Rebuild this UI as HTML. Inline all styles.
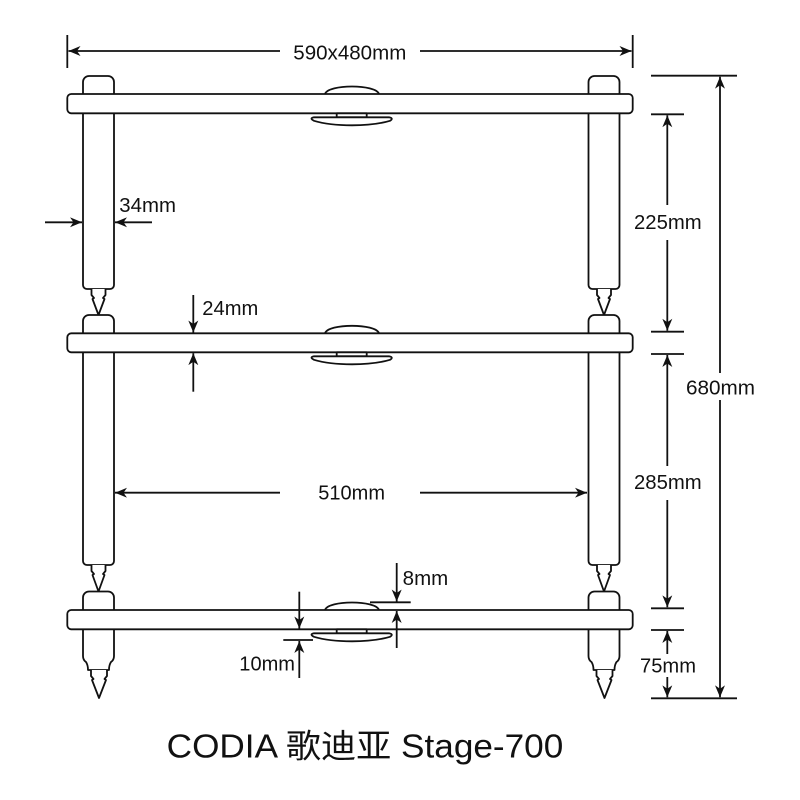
<!DOCTYPE html>
<html>
<head>
<meta charset="utf-8">
<style>
  html,body{margin:0;padding:0;background:#fff;}
  svg{display:block;}
  text{font-family:"Liberation Sans","Noto Sans CJK SC",sans-serif;fill:#111;}
</style>
</head>
<body>
<svg width="800" height="800" viewBox="0 0 800 800" xmlns="http://www.w3.org/2000/svg">
  <defs>
    <marker id="ah" viewBox="0 0 12 10" refX="12" refY="5" markerWidth="12" markerHeight="10" markerUnits="userSpaceOnUse" orient="auto">
      <path d="M0,0 L12,5 L0,10 L3.5,5 Z" fill="#111"/>
    </marker>
    <g id="col" fill="#fff" stroke="#111" stroke-width="1.8" stroke-linejoin="round">
      <rect x="83" y="76" width="31" height="30" rx="6"/>
      <rect x="83" y="100" width="31" height="189" rx="4"/>
      <path d="M91.5,289 L91.5,295 L94,298 L92.5,299 L98.5,315 L104.5,299 L103,298 L105.5,295 L105.5,289"/>
      <rect x="83" y="315" width="31" height="28" rx="6"/>
      <rect x="83" y="345" width="31" height="220" rx="4"/>
      <path d="M91.5,565 L91.5,571 L94,574 L92.5,575 L98.5,591.5 L104.5,575 L103,574 L105.5,571 L105.5,565"/>
      <rect x="83" y="591.5" width="31" height="28" rx="6"/>
      <path d="M83,620 L83,656 Q83,660 86,662 Q88,665 88,670 L109,670 Q109,665 111,662 Q114,660 114,656 L114,620"/>
      <path d="M91,670 L91,676 L93.5,679 L92,680 L99,698 L106,680 L104.5,679 L107,676 L107,670"/>
    </g>
    <g id="puck" fill="#fff" stroke="#111" stroke-width="1.8" stroke-linejoin="round">
      <path d="M325,0 C328,-10 376,-10 379,0"/>
    </g>
    <g id="puckb" fill="#fff" stroke="#111" stroke-width="1.8" stroke-linejoin="round">
      <rect x="336.7" y="0" width="30" height="4"/>
      <path d="M314,4 L389,4 Q394,5 390,7.5 C370,13.5 334,13.5 314,7.5 Q309,5 314,4 Z"/>
    </g>
  </defs>

  <use href="#col"/>
  <use href="#col" transform="translate(505.5,0)"/>

  <use href="#puck" transform="translate(0,94)"/>
  <use href="#puck" transform="translate(0,333.3)"/>
  <use href="#puck" transform="translate(0,610)"/>

  <g fill="#fff" stroke="#111" stroke-width="1.8">
    <rect x="67.3" y="94" width="565.4" height="19.3" rx="4"/>
    <rect x="67.3" y="333.3" width="565.4" height="19" rx="4"/>
    <rect x="67.3" y="610" width="565.4" height="19.3" rx="4"/>
  </g>

  <use href="#puckb" transform="translate(0,113.3)"/>
  <use href="#puckb" transform="translate(0,352.3)"/>
  <use href="#puckb" transform="translate(0,629.3)"/>

  <g stroke="#111" stroke-width="1.8" fill="none">
    <line x1="67.3" y1="35" x2="67.3" y2="68"/>
    <line x1="632.7" y1="35" x2="632.7" y2="68"/>
    <line x1="280" y1="51" x2="68.5" y2="51" marker-end="url(#ah)"/>
    <line x1="420" y1="51" x2="631.5" y2="51" marker-end="url(#ah)"/>

    <line x1="651" y1="75.7" x2="737" y2="75.7"/>
    <line x1="651" y1="114.3" x2="684" y2="114.3"/>
    <line x1="651" y1="331.7" x2="684" y2="331.7"/>
    <line x1="651" y1="354" x2="684" y2="354"/>
    <line x1="651" y1="608.3" x2="684" y2="608.3"/>
    <line x1="651" y1="630" x2="684" y2="630"/>
    <line x1="651" y1="698.3" x2="737" y2="698.3"/>

    <line x1="720" y1="373" x2="720" y2="76.7" marker-end="url(#ah)"/>
    <line x1="720" y1="400" x2="720" y2="697.3" marker-end="url(#ah)"/>
    <line x1="667.3" y1="205" x2="667.3" y2="115.3" marker-end="url(#ah)"/>
    <line x1="667.3" y1="240" x2="667.3" y2="330.7" marker-end="url(#ah)"/>
    <line x1="667.3" y1="466" x2="667.3" y2="355" marker-end="url(#ah)"/>
    <line x1="667.3" y1="500" x2="667.3" y2="607.3" marker-end="url(#ah)"/>
    <line x1="667.3" y1="654" x2="667.3" y2="631" marker-end="url(#ah)"/>
    <line x1="667.3" y1="677" x2="667.3" y2="697.3" marker-end="url(#ah)"/>

    <line x1="45" y1="222.3" x2="82" y2="222.3" marker-end="url(#ah)"/>
    <line x1="152" y1="222.3" x2="115" y2="222.3" marker-end="url(#ah)"/>
    <line x1="193.3" y1="295" x2="193.3" y2="332.5" marker-end="url(#ah)"/>
    <line x1="193.3" y1="391.7" x2="193.3" y2="353.2" marker-end="url(#ah)"/>
    <line x1="280" y1="492.7" x2="115" y2="492.7" marker-end="url(#ah)"/>
    <line x1="420" y1="492.7" x2="587" y2="492.7" marker-end="url(#ah)"/>
    <line x1="370" y1="602.3" x2="410.7" y2="602.3"/>
    <line x1="396.7" y1="563" x2="396.7" y2="601.5" marker-end="url(#ah)"/>
    <line x1="396.7" y1="648" x2="396.7" y2="611" marker-end="url(#ah)"/>
    <line x1="283.3" y1="640" x2="313" y2="640"/>
    <line x1="299.3" y1="591.7" x2="299.3" y2="628.5" marker-end="url(#ah)"/>
    <line x1="299.3" y1="678" x2="299.3" y2="641" marker-end="url(#ah)"/>
  </g>

  <g font-size="20">
    <text x="293.3" y="59.3" textLength="113" lengthAdjust="spacingAndGlyphs">590x480mm</text>
    <text x="119.3" y="212" textLength="56.7" lengthAdjust="spacingAndGlyphs">34mm</text>
    <text x="202.3" y="315" textLength="56" lengthAdjust="spacingAndGlyphs">24mm</text>
    <text x="634" y="229" textLength="67.7" lengthAdjust="spacingAndGlyphs">225mm</text>
    <text x="686" y="394.3" textLength="69" lengthAdjust="spacingAndGlyphs">680mm</text>
    <text x="634" y="489" textLength="67.7" lengthAdjust="spacingAndGlyphs">285mm</text>
    <text x="318.3" y="499.3" textLength="66.7" lengthAdjust="spacingAndGlyphs">510mm</text>
    <text x="640" y="672.3" textLength="56" lengthAdjust="spacingAndGlyphs">75mm</text>
    <text x="402.7" y="585" textLength="45.6" lengthAdjust="spacingAndGlyphs">8mm</text>
    <text x="239.3" y="670.7" textLength="55.7" lengthAdjust="spacingAndGlyphs">10mm</text>
  </g>

  <text x="166.7" y="757.3" font-size="33" textLength="396.6" lengthAdjust="spacingAndGlyphs">CODIA 歌迪亚 Stage-700</text>
</svg>
</body>
</html>
